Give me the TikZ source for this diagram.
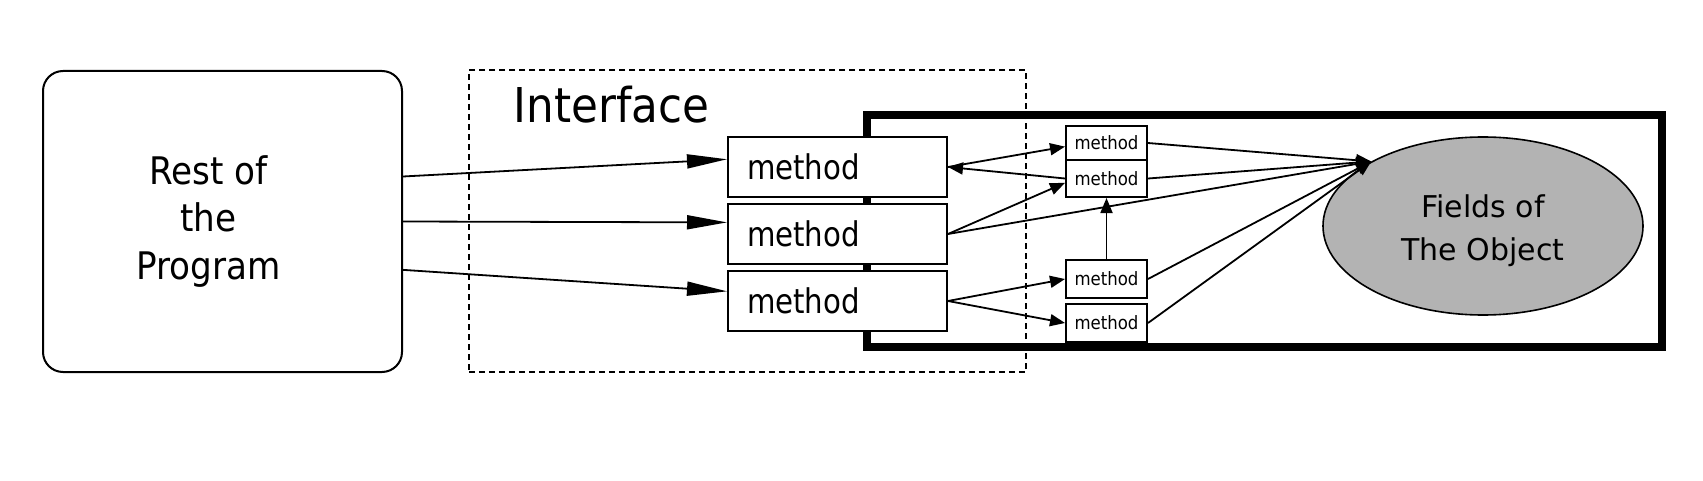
\documentclass[tikz,border=0pt]{standalone}
\usepackage{fontspec}
\setmainfont{DejaVu Sans}
\newfontfamily\fRest{DejaVu Sans}[FakeStretch=0.9]
\newfontfamily\fMeth{DejaVu Sans}[FakeStretch=0.86]
\newfontfamily\fSmall{DejaVu Sans}[FakeStretch=0.9]
\newfontfamily\fIface{DejaVu Sans}[FakeStretch=0.91]
\usetikzlibrary{arrows.meta,shapes.geometric,calc}
\definecolor{fieldgray}{HTML}{B3B3B3}
\begin{document}
\begin{tikzpicture}[x=0.5pt,y=-0.5pt,
  box/.style={draw,line width=1pt,fill=white,inner sep=0pt},
  bigmeth/.style={box,minimum height=30pt,text width=90.5pt,inner xsep=9.5pt,align=left,
    font=\fMeth\fontsize{17pt}{20pt}\selectfont},
  smallmeth/.style={box,minimum width=40.5pt,font=\fSmall\fontsize{9.2pt}{11pt}\selectfont},
  conn/.style={line width=0.9pt},
  bigarrow/.style={conn,-{Triangle[length=20pt,width=7pt]}},
  smallarrow/.style={conn,-{Triangle[length=7.5pt,width=6pt]}}
]
\useasboundingbox (0,0) rectangle (1703,481);

% object boundary (thick)
\node[draw,line width=4pt,minimum width=397.5pt,minimum height=116pt,inner sep=0pt] (obj) at (1264.5,231) {};

% interface (dashed)
\node[draw,line width=0.7pt,dash pattern=on 3pt off 2pt,minimum width=278.5pt,minimum height=151pt,inner sep=0pt] (iface) at (747.5,221) {};
\node[anchor=base,inner sep=0pt,font=\fIface\fontsize{24pt}{28pt}\selectfont] (ifacetext) at (611.5,123) {Interface};

% rest of the program
\node[draw,line width=1pt,rounded corners=10pt,minimum width=179.5pt,minimum height=150.5pt,inner sep=0pt,
  label={[align=center,xshift=-7pt,font=\fRest\fontsize{19pt}{23.75pt}\selectfont]center:Rest of\\the\\Program}] (rest) at (222.5,221.5) {};

% public methods
\node[bigmeth] (m1) at (837.5,167) {method};
\node[bigmeth] (m2) at (837.5,234) {method};
\node[bigmeth] (m3) at (837.5,301) {method};

% private methods
\node[smallmeth,minimum height=17pt] (sa) at (1106.5,143) {method};
\node[smallmeth,minimum height=18.5pt] (sb) at (1106.5,178.5) {method};
\node[smallmeth,minimum height=19pt] (sc) at (1106.5,279) {method};
\node[smallmeth,minimum height=19pt] (sd) at (1106.5,323) {method};

% fields
\node[ellipse,draw,line width=0.8pt,fill=fieldgray,minimum width=160pt,minimum height=89pt,inner sep=0pt,
  label={[align=center,yshift=-2.25pt,font=\fontsize{15pt}{21.5pt}\selectfont]center:Fields of\\The Object}] (ell) at (1483,226) {};

% calls from the rest of the program
\draw[bigarrow] (rest.14.5) -- (m1.176.3);
\draw[bigarrow] (rest.-0.5) -- (m2.174.3);
\draw[bigarrow] (rest.-15.1) -- (m3.175.3);

% internal calls
\draw[smallarrow] (m1.east) -- (sa.185.6);
\draw[smallarrow] (sb.west) -- (m1.east);
\draw[smallarrow] (m2.east) -- (sb.186);
\draw[smallarrow] (m3.east) -- (sc.west);
\draw[smallarrow] (m3.east) -- (sd.west);
\draw[smallarrow] (sc.north) -- (sb.south);

% field accesses
\draw[smallarrow] (m2.east) -- (ell.150.9);
\draw[smallarrow] (sa.east) -- (ell.150.9);
\draw[smallarrow] (sb.east) -- (ell.150.9);
\draw[smallarrow] (sc.east) -- (ell.150.9);
\draw[smallarrow] (sd.east) -- (ell.150.9);
\end{tikzpicture}
\end{document}
